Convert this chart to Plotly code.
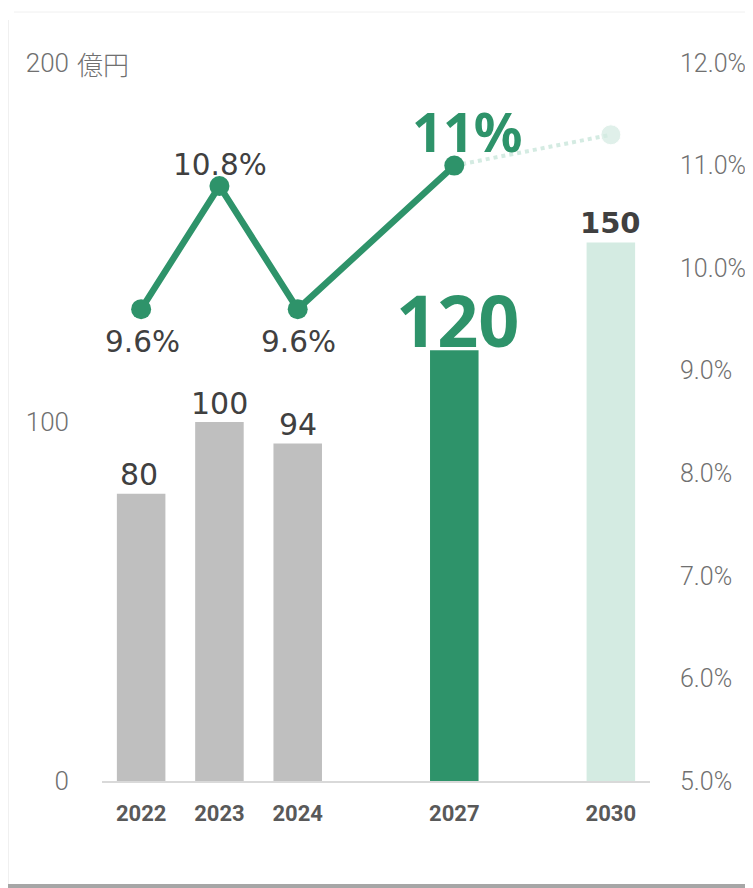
import plotly.graph_objects as go

# ---- data ----
axis_slots = ["2022", "2023", "2024", "", "2027", "", "2030"]
years = ["2022", "2023", "2024", "2027", "2030"]
sales = [80, 100, 94, 120, 150]
margin_years = ["2022", "2023", "2024", "2027"]
margin = [9.6, 10.8, 9.6, 11.0]
target_year = ["2027", "2030"]
target_margin = [11.0, 11.3]
left_ticks = [0, 100, 200]
right_ticks = [5, 6, 7, 8, 9, 10, 11, 12]

GREEN = "#2E936A"
LIGHT = "#D4EBE2"
GRAY = "#BFBFBF"
DARK = "#404040"
TICK = "#707070"

def slot(y):
    return axis_slots.index(y)

bar_x = [slot(y) for y in years]
bar_colors = [GRAY, GRAY, GRAY, GREEN, LIGHT]

fig = go.Figure()
fig.add_trace(go.Bar(
    x=bar_x, y=sales, marker=dict(color=bar_colors, line=dict(width=0)),
    width=0.62, hoverinfo="skip", showlegend=False,
))

# dotted target segment
fig.add_trace(go.Scatter(
    x=[slot(y) for y in target_year], y=target_margin, yaxis="y2",
    mode="lines+markers", line=dict(color=LIGHT, width=4, dash="dot"),
    marker=dict(size=[0, 20], color=LIGHT), cliponaxis=False,
    hoverinfo="skip", showlegend=False,
))

fig.add_trace(go.Scatter(
    x=[slot(y) for y in margin_years], y=margin, yaxis="y2",
    mode="lines+markers", line=dict(color=GREEN, width=6.5),
    marker=dict(size=20, color=GREEN),
    cliponaxis=False, hoverinfo="skip", showlegend=False,
))

annotations = []
# bar value labels: (font, size, colour, bold, xshift, yshift)
bar_style = [
    ("DejaVu Sans", 30, DARK, False, -2, 19),
    ("DejaVu Sans", 30, DARK, False, 0, 19),
    ("DejaVu Sans", 30, DARK, False, 0, 19),
    ("Noto Sans", 72, GREEN, True, 4, 31),
    ("DejaVu Sans", 29, DARK, True, 0, 20),
]
for yr, v, (fam, sz, col, bold, dx, dy) in zip(years, sales, bar_style):
    t = str(v)
    if bold:
        t = "<b>" + t + "</b>"
    annotations.append(dict(
        x=slot(yr), y=v, xref="x", yref="y", text=t, showarrow=False,
        xanchor="center", yanchor="middle", xshift=dx, yshift=dy,
        font=dict(family=fam, size=sz, color=col)))

# margin labels
m_style = [
    ("DejaVu Sans", 29.5, DARK, False, 1, -33),
    ("DejaVu Sans", 29.5, DARK, False, 1, 21),
    ("DejaVu Sans", 29.5, DARK, False, 1, -33),
    ("Noto Sans", 54, GREEN, True, 13, 35),
]
for yr, v, (fam, sz, col, bold, dx, dy) in zip(margin_years, margin, m_style):
    t = f"{v:g}%"
    if bold:
        t = "<b>" + t + "</b>"
    annotations.append(dict(
        x=slot(yr), y=v, xref="x", yref="y2", text=t, showarrow=False,
        xanchor="center", yanchor="middle", xshift=dx, yshift=dy,
        font=dict(family=fam, size=sz, color=col)))

OFF = 8  # page body margin
W, H = 753 - OFF, 888 - OFF
L, R, T, B = 102 - OFF, 753 - 650, 63 - OFF, 888 - 781
pw, ph = W - L - R, H - T - B

def px_x(p):
    return (p - OFF - L) / pw

def px_y(p):
    return (H - B - (p - OFF)) / ph

annotations.append(dict(text="億円", xref="paper", yref="y", x=px_x(75), y=200,
                        xanchor="left", yanchor="middle", showarrow=False,
                        font=dict(family="Noto Sans CJK JP", size=26, color=TICK, weight=300)))

fig.update_layout(
    width=W, height=H, autosize=False,
    margin=dict(l=L, r=R, t=T, b=B),
    paper_bgcolor="white", plot_bgcolor="white",
    xaxis=dict(range=[-0.5, len(axis_slots) - 0.5], automargin=False,
               tickvals=[slot(y) for y in years], ticktext=years,
               tickfont=dict(family="Roboto", size=22, color="#595959", weight="bold"),
               showline=True, linecolor="#D9D9D9", linewidth=2,
               showgrid=False, zeroline=False, ticks="", ticklabelstandoff=12),
    yaxis=dict(range=[0, 200], tickvals=left_ticks, ticktext=[str(v) for v in left_ticks],
               automargin=False,
               tickfont=dict(family="Roboto", size=26, color=TICK, weight=300),
               showgrid=False, zeroline=False, showline=False, ticks="",
               ticklabelstandoff=32),
    yaxis2=dict(range=[5, 12], overlaying="y", side="right", tickvals=right_ticks,
                ticktext=[f"{v:.1f}%" for v in right_ticks], automargin=False,
                tickfont=dict(family="Roboto", size=25, color=TICK, weight=300),
                showgrid=False, zeroline=False, showline=False, ticks="",
                ticklabelstandoff=29),
    annotations=annotations,
    shapes=[
        dict(type="rect", xref="paper", yref="paper", x0=px_x(0), x1=px_x(760),
             y0=px_y(889), y1=px_y(884), fillcolor="#A6A6A6", line=dict(width=0), layer="below"),
        dict(type="line", xref="paper", yref="paper", x0=px_x(14), x1=px_x(760),
             y0=px_y(12), y1=px_y(12), line=dict(color="#F0F0F0", width=1), layer="below"),
        dict(type="line", xref="paper", yref="paper", x0=px_x(8.5), x1=px_x(8.5),
             y0=px_y(20), y1=px_y(884), line=dict(color="#F0F0F0", width=1), layer="below"),
    ],
)

fig.write_html("out.html")
